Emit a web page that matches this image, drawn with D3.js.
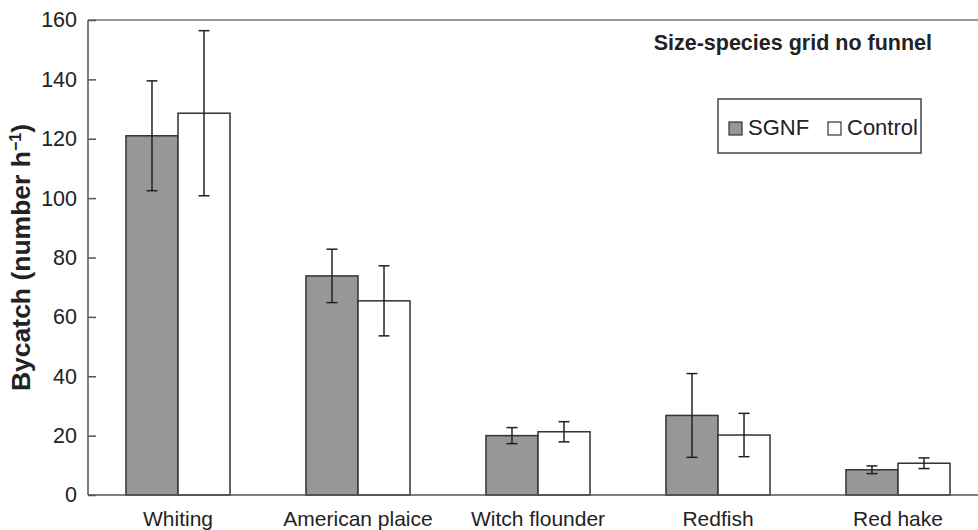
<!DOCTYPE html>
<html>
<head>
<meta charset="utf-8">
<script src="https://cdn.jsdelivr.net/npm/d3@7"></script>
<style>
	body { margin: 0; background: #fff; }
	svg { display: block; font-family: "Liberation Sans", Arial, sans-serif; }
</style>
</head>
<body>
<div id="chart"></div>
<script>
var WIDTH = 978, HEIGHT = 530;

// data
var categories = ["Whiting", "American plaice", "Witch flounder", "Redfish", "Red hake"];
var seriesNames = ["SGNF", "Control"];
var sgnfValues = [121, 73.8, 20, 26.8, 8.5];
var sgnfErrors = [18.5, 9, 2.7, 14.1, 1.3];
var controlValues = [128.6, 65.4, 21.3, 20.2, 10.7];
var controlErrors = [27.8, 11.8, 3.4, 7.3, 1.8];
var yTicks = [0, 20, 40, 60, 80, 100, 120, 140, 160];

// plot edges (window.top is taken, so no plain "top")
var plotLeft = 88, plotTop = 20, plotBottom = 495;

var svg = d3.select("#chart").append("svg")
	.attr("width", WIDTH)
	.attr("height", HEIGHT);

var x = d3.scaleBand()
	.domain(categories)
	.range([plotLeft, plotLeft + 900])
	.paddingInner(0.422)
	.paddingOuter(0.211);

var xs = d3.scaleBand()
	.domain(seriesNames)
	.range([0, x.bandwidth()]);

var y = d3.scaleLinear()
	.domain([0, 160])
	.range([plotBottom, plotTop]);

var fills = { "SGNF": "#979797", "Control": "#ffffff" };

// flatten into one row per bar
var rows = [];
categories.forEach(function(c, i) {
	rows.push({ cat: c, series: "SGNF", value: sgnfValues[i], err: sgnfErrors[i] });
	rows.push({ cat: c, series: "Control", value: controlValues[i], err: controlErrors[i] });
});

// frame: top line
svg.append("line")
	.attr("x1", plotLeft).attr("x2", WIDTH)
	.attr("y1", y(160)).attr("y2", y(160))
	.attr("stroke", "#777").attr("stroke-width", 1.5);

// bars
svg.selectAll(".bar")
	.data(rows)
	.enter().append("rect")
		.attr("class", "bar")
		.attr("x", function(d) { return x(d.cat) + xs(d.series); })
		.attr("y", function(d) { return y(d.value); })
		.attr("width", xs.bandwidth())
		.attr("height", function(d) { return y(0) - y(d.value); })
		.attr("fill", function(d) { return fills[d.series]; })
		.attr("stroke", "#333")
		.attr("stroke-width", 1.5);

// error bars
var eb = svg.selectAll(".err")
	.data(rows)
	.enter().append("g")
		.attr("class", "err")
		.attr("transform", function(d) { return "translate(" + (x(d.cat) + xs(d.series) + xs.bandwidth() / 2) + ",0)"; });

eb.append("line")
	.attr("x1", 0).attr("x2", 0)
	.attr("y1", function(d) { return y(d.value + d.err); })
	.attr("y2", function(d) { return y(d.value - d.err); })
	.attr("stroke", "#222").attr("stroke-width", 1.5);

eb.selectAll(".cap")
	.data(function(d) { return [d.value + d.err, d.value - d.err]; })
	.enter().append("line")
		.attr("class", "cap")
		.attr("x1", -5.5).attr("x2", 5.5)
		.attr("y1", function(v) { return y(v); })
		.attr("y2", function(v) { return y(v); })
		.attr("stroke", "#222").attr("stroke-width", 1.5);

// y axis, ticks inside
var yAxis = svg.append("g")
	.attr("transform", "translate(" + plotLeft + ",0)")
	.call(d3.axisRight(y).tickValues(yTicks).tickSize(8).tickFormat(d3.format("d")));
yAxis.select(".domain").remove();
yAxis.selectAll(".tick line").attr("stroke", "#555").attr("stroke-width", 1.5);
yAxis.selectAll(".tick text")
	.attr("x", -11)
	.attr("text-anchor", "end")
	.attr("fill", "#222")
	.style("font-size", "21.5px");

svg.append("line")
	.attr("x1", plotLeft).attr("x2", plotLeft)
	.attr("y1", y(160)).attr("y2", y(0))
	.attr("stroke", "#555").attr("stroke-width", 1.5);

// x axis
var xAxis = svg.append("g")
	.attr("transform", "translate(0," + plotBottom + ")")
	.call(d3.axisBottom(x).tickSize(0).tickPadding(0));
xAxis.select(".domain").remove();
xAxis.selectAll(".tick text")
	.attr("y", 31)
	.attr("dy", null)
	.attr("fill", "#222")
	.style("font-size", "21px");

svg.append("line")
	.attr("x1", plotLeft).attr("x2", WIDTH)
	.attr("y1", y(0)).attr("y2", y(0))
	.attr("stroke", "#555").attr("stroke-width", 1.5);

// y title with superscript
var yTitle = svg.append("text")
	.attr("transform", "translate(30," + ((plotTop + plotBottom) / 2) + ")rotate(-90)")
	.attr("text-anchor", "middle")
	.attr("fill", "#222")
	.style("font-size", "26.5px")
	.style("font-weight", "bold");
yTitle.append("tspan").text("Bycatch (number h");
yTitle.append("tspan").attr("dy", -9).style("font-size", "16px").text("\u22121");
yTitle.append("tspan").attr("dy", 9).text(")");

// panel title
svg.append("text")
	.attr("x", 932)
	.attr("y", 50)
	.attr("text-anchor", "end")
	.attr("fill", "#222")
	.style("font-size", "21.5px")
	.style("font-weight", "bold")
	.text("Size-species grid no funnel");

// legend
var legend = svg.append("g").attr("transform", "translate(718,99)");
legend.append("rect")
	.attr("width", 203).attr("height", 54)
	.attr("fill", "#fff")
	.attr("stroke", "#444").attr("stroke-width", 1.5);

var legendX = { "SGNF": 11, "Control": 110 };
var item = legend.selectAll(".item")
	.data(seriesNames)
	.enter().append("g")
		.attr("class", "item")
		.attr("transform", function(d) { return "translate(" + legendX[d] + ",23)"; });
item.append("rect")
	.attr("width", 13).attr("height", 13)
	.attr("fill", function(d) { return fills[d]; })
	.attr("stroke", "#333").attr("stroke-width", 1.2);
item.append("text")
	.attr("x", 19)
	.attr("y", 13)
	.attr("fill", "#222")
	.style("font-size", "22px")
	.text(function(d) { return d; });
</script>
</body>
</html>
